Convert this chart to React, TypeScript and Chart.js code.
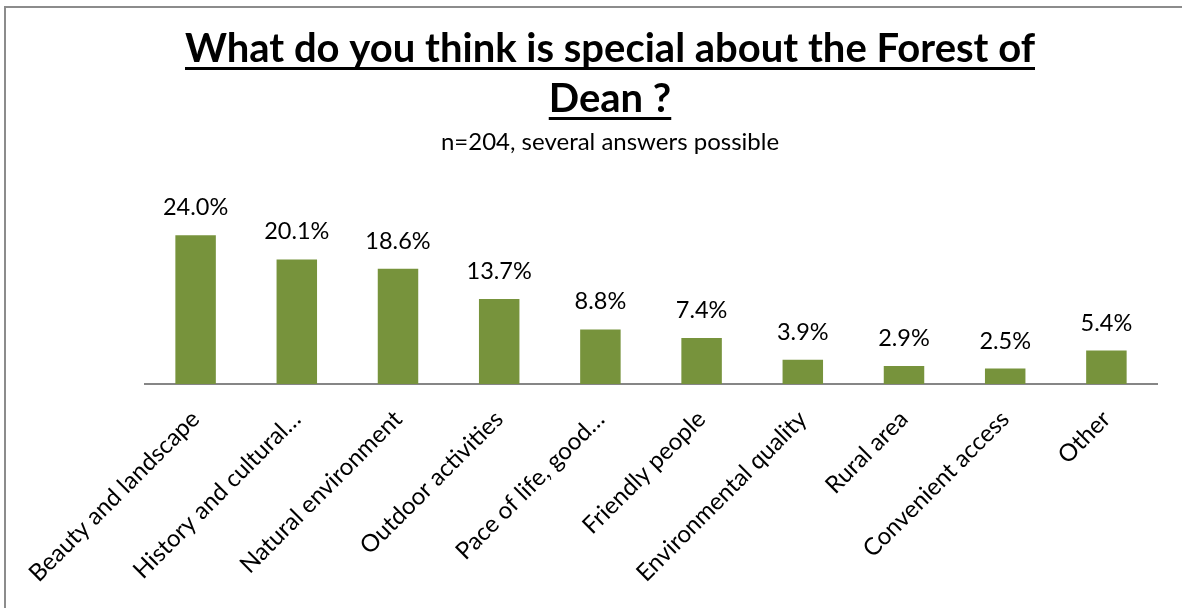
import React, { useEffect, useRef } from 'react';
import { Chart, registerables } from 'chart.js';

Chart.register(...registerables);

const categories = [
  'Beauty and landscape',
  'History and cultural…',
  'Natural environment',
  'Outdoor activities',
  'Pace of life, good…',
  'Friendly people',
  'Environmental quality',
  'Rural area',
  'Convenient access',
  'Other',
];
const values = [24.0, 20.1, 18.6, 13.7, 8.8, 7.4, 3.9, 2.9, 2.5, 5.4];
const titleLines = ['What do you think is special about the Forest of', 'Dean ?'];
const subtitle = 'n=204, several answers possible';

const FONT = 'Lato, "Open Sans", sans-serif';
const BAR_COLOR = '#77933C';
const W = 1182;
const H = 608;

const decorPlugin = {
  id: 'decor',
  afterDraw(chart: any) {
    const ctx = chart.ctx;
    ctx.save();
    // frame
    ctx.strokeStyle = '#8c8c8c';
    ctx.lineWidth = 2;
    ctx.beginPath();
    ctx.moveTo(W, 7);
    ctx.lineTo(5, 7);
    ctx.lineTo(5, H);
    ctx.stroke();

    // title
    const cx = 610;
    ctx.fillStyle = '#000';
    ctx.textAlign = 'center';
    ctx.textBaseline = 'alphabetic';
    ctx.font = `bold 40px ${FONT}`;
    const baselines = [62, 112];
    titleLines.forEach((line, i) => {
      const y = baselines[i];
      ctx.fillText(line, cx, y);
      const w = ctx.measureText(line).width;
      ctx.fillRect(cx - w / 2, y + 5, w, 3);
    });
    ctx.font = `24px ${FONT}`;
    ctx.fillText(subtitle, cx, 150);

    // data labels
    const meta = chart.getDatasetMeta(0);
    ctx.font = `23.5px ${FONT}`;
    meta.data.forEach((bar: any, i: number) => {
      ctx.fillText(values[i].toFixed(1) + '%', bar.x, bar.y - 20);
    });
    ctx.restore();
  },
};

export default function App() {
  const ref = useRef<HTMLCanvasElement | null>(null);
  useEffect(() => {
    document.body.style.margin = '0';
    const canvas = ref.current!;
    const chart = new Chart(canvas, {
      type: 'bar',
      data: {
        labels: categories,
        datasets: [
          {
            data: values,
            backgroundColor: BAR_COLOR,
            borderWidth: 0,
            barPercentage: 0.4,
            categoryPercentage: 1,
          },
        ],
      },
      options: {
        animation: false,
        responsive: false,
        devicePixelRatio: 1,
        layout: { padding: { left: 145, right: 25, top: 198, bottom: 0 } },
        plugins: {
          legend: { display: false },
          title: { display: false },
          tooltip: { enabled: false },
        },
        scales: {
          x: {
            grid: { display: false, drawTicks: false },
            border: { display: true, color: '#868686', width: 2 },
            ticks: {
              autoSkip: false,
              maxRotation: 45,
              minRotation: 45,
              color: '#000',
              font: { family: FONT, size: 24 },
              padding: 21,
            },
            afterFit(scale: any) {
              scale.height = H - 384;
            },
          },
          y: {
            display: false,
            min: 0,
            max: 30,
          },
        },
      },
      plugins: [decorPlugin],
    });
    return () => chart.destroy();
  }, []);
  return (
    <div style={{ position: 'relative', width: W, height: H }}>
      <canvas ref={ref} width={W} height={H} style={{ display: 'block' }} />
    </div>
  );
}
